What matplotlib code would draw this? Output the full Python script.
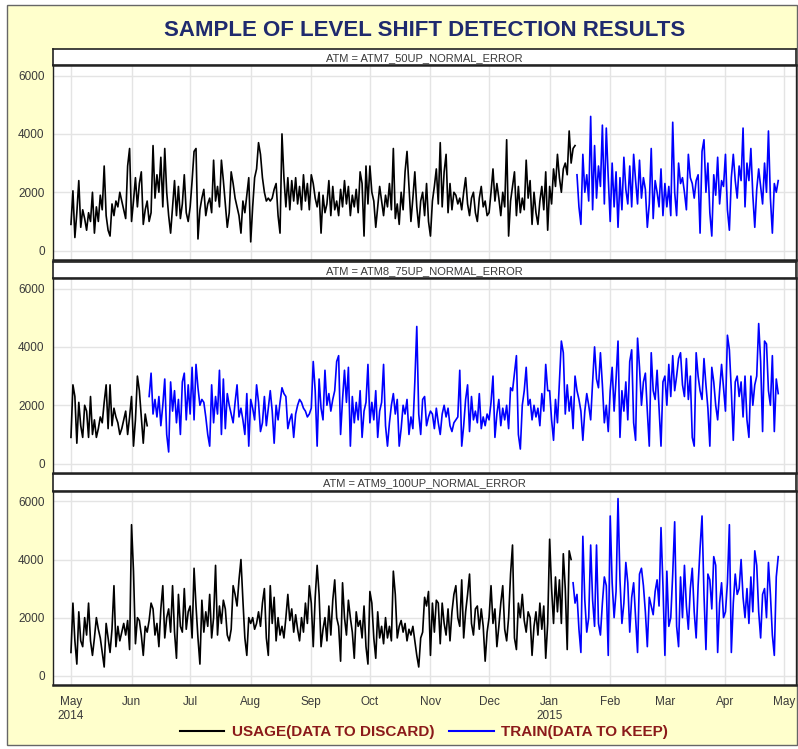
import pandas as pd
import matplotlib
matplotlib.use("Agg")
import matplotlib.pyplot as plt
from matplotlib.lines import Line2D
from matplotlib.patches import Rectangle

plt.rcParams["font.family"] = ["Liberation Sans", "DejaVu Sans"]

START = "2014-05-01"

# ATM7: usage May 1 2014 - Jan 14 2015, train Jan 15 - Apr 28 2015
ATM7_USAGE = [
    # May
    900, 2050, 450, 1300, 2400, 800, 1400, 1100, 700, 1300, 1000, 2000, 600, 1500, 1000, 1900,
    1400, 2900, 1200, 700, 500, 1600, 1200, 1700, 1500, 2000, 1700, 1400, 1100, 2900, 3500,
    # Jun
    1000, 1700, 2500, 1500, 2300, 2700, 900, 1400, 1700, 1000, 1300, 3600, 1800, 2600, 2000,
    3200, 1500, 3500, 2000, 1200, 600, 1500, 2400, 1200, 2200, 1100, 1600, 2600, 1300, 1000,
    # Jul
    1500, 2400, 3400, 3500, 400, 1400, 1800, 2100, 1200, 1600, 1800, 1300, 3100, 1700, 2200,
    1500, 3100, 2400, 1600, 800, 1300, 2700, 2300, 1800, 1500, 1200, 600, 1700, 1300, 1900, 2500,
    # Aug
    300, 1500, 2500, 2800, 3700, 3300, 2500, 2000, 1700, 1800, 1700, 1800, 2100, 2300, 1200,
    600, 4000, 2500, 1500, 2500, 1400, 2400, 1700, 2500, 1600, 2200, 1400, 2600, 1700, 2300, 1400,
    # Sep
    2600, 2300, 1800, 1500, 2000, 600, 1900, 1300, 1600, 2400, 1200, 2200, 1400, 1700, 1200,
    2100, 1500, 2400, 1600, 2200, 1200, 1900, 1500, 2100, 1300, 2700, 2300, 500, 2900, 1600,
    # Oct
    2900, 2000, 1700, 800, 1500, 2200, 1700, 1200, 1900, 1500, 2300, 1400, 3500, 1100,
    1600, 900, 2000, 1400, 2700, 3400, 2200, 1000, 1800, 2700, 1500, 800, 1700, 2000, 1200, 2300, 1000,
    # Nov
    500, 1700, 2200, 2800, 1600, 3700, 1500, 2700, 3300, 1300, 2300, 1400, 2000, 1900, 1600,
    1800, 1400, 2000, 2500, 1600, 1200, 1800, 2000, 1300, 1000, 1800, 2200, 1500, 1700, 1200,
    # Dec
    1300, 2000, 2800, 1700, 2300, 1800, 1200, 2000, 1500, 3800, 500, 1700, 2200, 2700, 1200,
    2200, 1300, 1800, 1400, 3100, 1800, 2400, 900, 2000, 1300, 900, 1700, 2200, 1400, 2700, 700,
    # Jan 1-14
    2200, 1600, 2800, 2200, 3300, 2500, 2000, 2800, 3000, 2600, 4100, 3000, 3500, 3600,
]
ATM7_TRAIN = [
    # Jan 15-31
    2600, 1500, 900, 3300, 2000, 2600, 1700, 4600, 1400, 3600, 1800, 2900, 2200, 4300, 1600, 4200, 2500,
    # Feb
    1000, 3000, 1500, 2700, 800, 2500, 1400, 3200, 2100, 1600, 2900, 1500, 3300, 2400, 1600,
    3100, 1800, 2500, 2100, 800, 1600, 3500, 1100, 2400, 2000, 1500, 2800, 1200,
    # Mar
    2300, 1500, 2200, 1200, 4400, 2000, 1200, 3000, 2300, 2500, 2000, 1400, 3300, 2500, 2300,
    1800, 2400, 2600, 600, 3400, 3800, 2000, 3000, 1300, 500, 2600, 1900, 3200, 1600, 2400, 2200,
    # Apr 1-28
    3300, 1400, 700, 2500, 3300, 2400, 1800, 2900, 2400, 4200, 1500, 3000, 2400, 3500, 1900,
    800, 2100, 2800, 2200, 1600, 3000, 2000, 4100, 1800, 600, 2300, 2000, 2400,
]

# ATM8: usage May 1 - Jun 9 2014, train Jun 10 2014 - Apr 28 2015
ATM8_USAGE = [
    # May
    900, 2700, 2300, 700, 2100, 1300, 900, 2000, 1800, 900, 2300, 1000, 1500, 900, 1200, 1600,
    1400, 2100, 2700, 1200, 2700, 1300, 1900, 1600, 1400, 1000, 1200, 1500, 1800, 1000, 1600,
    # Jun 1-9
    2300, 600, 1500, 3000, 2500, 1600, 700, 1700, 1300,
]
ATM8_TRAIN = [
    # Jun 10-30
    2300, 3100, 1700, 2200, 1600, 2300, 1300, 2000, 2900, 1000, 400, 2800, 1800, 2500, 1400,
    2200, 1000, 2800, 3100, 1500, 2700,
    # Jul
    1700, 3300, 1500, 3400, 2600, 2000, 2200, 2100, 1600, 1000, 600, 2700, 1400, 2300, 1700,
    3200, 1000, 2900, 1200, 2400, 2000, 1700, 1400, 2100, 2700, 1600, 1900, 1500, 1000, 2400, 600,
    # Aug
    2200, 1900, 1500, 2700, 2100, 1100, 1400, 2300, 1300, 1900, 2500, 1800, 700, 2000, 1500,
    2100, 2600, 2400, 2300, 1200, 1500, 1700, 900, 1700, 2000, 2200, 2100, 1900, 1800, 1600, 1700,
    # Sep
    1900, 3500, 2500, 600, 2900, 1900, 1500, 3200, 2000, 2400, 1800, 2200, 2500, 3500, 3700,
    1000, 2200, 3200, 2100, 3300, 600, 2300, 1400, 2100, 1500, 2500, 900, 1800, 2100, 3400,
    # Oct
    1400, 2100, 1500, 2500, 900, 1800, 2100, 3400, 1300, 600, 1400, 2000, 2400, 1700, 2200,
    600, 1200, 2000, 1700, 2200, 1000, 1600, 1200, 2800, 4700, 1700, 1000, 2200, 2300, 1300, 1600,
    # Nov
    1800, 1700, 1200, 1900, 1400, 1000, 1700, 2000, 1600, 1900, 1300, 1100, 1400, 1500, 1600,
    3200, 600, 1300, 2200, 2700, 1100, 2300, 1500, 1800, 1400, 2400, 1200, 1600, 1300, 1700,
    # Dec
    1500, 2100, 3000, 900, 1700, 2200, 1300, 1900, 1500, 2000, 1200, 2600, 2500, 3100, 3700,
    1000, 500, 2000, 2500, 3300, 2000, 2200, 1500, 2000, 1600, 1900, 1300, 2400, 1800, 3400, 2500,
    # Jan
    2500, 1500, 800, 2200, 1400, 2800, 4200, 3800, 1700, 2700, 1800, 2300, 1200, 3000, 2500,
    2200, 1800, 800, 1800, 2400, 2000, 1500, 2800, 4000, 2900, 2600, 3800, 2700, 1400, 2000, 1100,
    # Feb
    2500, 3300, 1800, 2900, 4200, 900, 2500, 1800, 2800, 1500, 3500, 3900, 1400, 800, 4300,
    3300, 2000, 2800, 3100, 1800, 600, 3800, 2500, 2200, 3200, 1900, 600, 2800,
    # Mar
    3000, 2000, 3400, 2300, 3700, 2500, 3000, 3600, 3800, 2700, 2300, 3600, 2200, 3000, 900,
    600, 3800, 3000, 2500, 2200, 3600, 2700, 1900, 600, 3300, 2800, 2000, 1500, 2500, 3400, 2600,
    # Apr 1-28
    1800, 4400, 3900, 2500, 800, 2800, 3000, 2300, 2800, 1600, 3000, 1500, 900, 3000, 2000,
    2700, 3000, 4800, 3500, 1100, 4200, 4100, 2500, 2000, 3700, 1100, 2900, 2400,
]

# ATM9: usage May 1 2014 - Jan 12 2015, train Jan 13 - Apr 28 2015
ATM9_USAGE = [
    # May
    800, 2500, 1200, 400, 2200, 1200, 1000, 2000, 1400, 2500, 1200, 700, 1300, 2000, 1600, 1300,
    800, 300, 1800, 1300, 800, 1600, 3100, 1000, 1700, 1200, 1500, 1800, 1400, 1900, 900,
    # Jun
    5200, 3600, 1100, 2000, 1900, 1400, 700, 1700, 1500, 1900, 2500, 2300, 1400, 1800, 1000,
    2300, 3100, 1300, 2000, 2300, 1500, 3100, 1500, 600, 2800, 1700, 1500, 3000, 1600, 2200,
    # Jul
    2400, 1300, 3700, 2400, 1300, 400, 2600, 1500, 2200, 1700, 2800, 1300, 2000, 3800, 1400,
    2400, 1800, 2600, 2300, 1400, 1200, 1600, 3100, 2800, 2400, 3300, 4000, 2600, 1300, 700, 2000,
    # Aug
    1800, 2000, 1600, 1800, 2200, 1700, 2500, 3000, 1300, 700, 3100, 1800, 2700, 1200, 2000,
    1400, 1700, 1300, 2000, 2800, 1900, 2300, 1500, 2100, 1600, 1200, 2000, 1500, 2500, 1800, 3100,
    # Sep
    2500, 1000, 2700, 3800, 2800, 1000, 1600, 2000, 1200, 2400, 1400, 2600, 3300, 2000, 1700,
    500, 3200, 2000, 1400, 2600, 2000, 1500, 600, 2200, 1700, 1900, 1300, 2400, 1000, 400,
    # Oct
    2900, 2500, 1300, 600, 2200, 1300, 1700, 1100, 2000, 1300, 1700, 1200, 3600, 2800, 1300,
    1700, 1900, 1500, 1800, 1200, 1600, 1400, 1700, 1200, 700, 300, 1300, 1500, 2700, 2400, 2900,
    # Nov
    700, 2500, 1500, 2600, 2500, 1100, 2500, 1800, 1400, 2300, 1200, 2200, 2800, 3100, 2000,
    1700, 3300, 1300, 2200, 2800, 3500, 1800, 1400, 2300, 2400, 1600, 2300, 1700, 500, 1500,
    # Dec
    2000, 3100, 1800, 2300, 1000, 1700, 2500, 3100, 1600, 1200, 2000, 3500, 4500, 1300, 900,
    2500, 2000, 2800, 1900, 1500, 2200, 2000, 700, 1700, 2200, 1400, 2500, 1600, 2400, 600, 1800,
    # Jan 1-12
    4700, 3000, 1800, 3400, 2200, 3300, 1800, 4200, 3000, 900, 4300, 4000,
]
ATM9_TRAIN = [
    # Jan 13-31
    3200, 2500, 2800, 1600, 800, 4800, 2600, 1500, 2000, 4500, 2600, 1700, 4500, 1800, 1400,
    2500, 3400, 3100, 700,
    # Feb
    5500, 3200, 2000, 2900, 6100, 3300, 1800, 2500, 3900, 3200, 1500, 2700, 3200, 2000, 800,
    3500, 3700, 3100, 2200, 1000, 2700, 2400, 2100, 2900, 3300, 2400, 5100, 3100,
    # Mar
    700, 3600, 1700, 2000, 3500, 5300, 1700, 1000, 3400, 2000, 3800, 2400, 1600, 3000, 3700,
    2200, 1300, 3100, 4400, 5500, 2800, 900, 3500, 3300, 2300, 4100, 3800, 800, 2500, 3200, 2000,
    # Apr 1-28
    2200, 3200, 5200, 800, 2500, 3500, 2800, 3000, 4000, 2700, 2000, 3000, 1800, 3400, 2200,
    4300, 3800, 2200, 1300, 2800, 3000, 2000, 3900, 2800, 1400, 700, 3400, 4100,
]

STRIP_LABELS = [
    "ATM = ATM7_50UP_NORMAL_ERROR",
    "ATM = ATM8_75UP_NORMAL_ERROR",
    "ATM = ATM9_100UP_NORMAL_ERROR",
]
USAGE_SERIES = [ATM7_USAGE, ATM8_USAGE, ATM9_USAGE]
TRAIN_SERIES = [ATM7_TRAIN, ATM8_TRAIN, ATM9_TRAIN]

MONTH_TICKS = pd.date_range("2014-05-01", "2015-05-01", freq="MS")
MONTH_LABELS = ["May\n2014", "Jun", "Jul", "Aug", "Sep", "Oct", "Nov", "Dec",
                "Jan\n2015", "Feb", "Mar", "Apr", "May"]
Y_TICKS = [0, 2000, 4000, 6000]

TITLE = "SAMPLE OF LEVEL SHIFT DETECTION RESULTS"
USAGE_LABEL = "USAGE(DATA TO DISCARD)"
TRAIN_LABEL = "TRAIN(DATA TO KEEP)"

W, H = 798, 749
BG = "#FFFFCC"
GRID = "#E4E4E4"
TICK_COLOR = "#3A3A3A"


def box(left, top, right, bottom):
    return [left / W, 1 - bottom / H, (right - left) / W, (bottom - top) / H]


fig = plt.figure(figsize=(W / 100, H / 100), dpi=100)
fig.patch.set_facecolor("white")
frame = Rectangle((7 / W, 4 / H), 790 / W, 740 / H, transform=fig.transFigure,
                  facecolor=BG, edgecolor="#666666", linewidth=1, zorder=-10)
fig.add_artist(frame)

fig.text(425 / W, 1 - 30 / H, TITLE, ha="center", va="center", fontsize=16,
         fontweight="bold", color="#1F2A6E")

plot_boxes = [(53, 65, 796, 260), (53, 278, 796, 473), (53, 491, 796, 685)]
strip_boxes = [(53, 49, 796, 65), (53, 262, 796, 278), (53, 474, 796, 491)]

x_min = pd.Timestamp("2014-05-01") - pd.Timedelta(days=9.2)
x_max = pd.Timestamp("2015-05-01") + pd.Timedelta(days=6.1)

for i in range(3):
    usage = USAGE_SERIES[i]
    train = TRAIN_SERIES[i]
    usage_dates = pd.date_range(START, periods=len(usage), freq="D")
    train_dates = pd.date_range(usage_dates[-1] + pd.Timedelta(days=1), periods=len(train), freq="D")

    ax = fig.add_axes(box(*plot_boxes[i]))
    ax.set_facecolor("white")
    ax.plot(usage_dates, usage, color="black", linewidth=1.2)
    ax.plot(train_dates, train, color="#0000FF", linewidth=1.2)

    ax.set_xlim(x_min, x_max)
    ax.set_ylim(-320, 6360)
    ax.set_yticks(Y_TICKS)
    ax.set_yticklabels([str(v) for v in Y_TICKS])
    ax.set_xticks(MONTH_TICKS)
    if i == 2:
        ax.set_xticklabels(MONTH_LABELS)
    else:
        ax.set_xticklabels([])
    ax.tick_params(length=0, labelsize=8.5, colors=TICK_COLOR, pad=6)
    ax.tick_params(axis="x", pad=8)
    ax.grid(color=GRID, linewidth=1)
    ax.set_axisbelow(True)
    for side in ["left", "right"]:
        ax.spines[side].set_linewidth(1)
        ax.spines[side].set_color("#222222")
    for side in ["top", "bottom"]:
        ax.spines[side].set_linewidth(1.8)
        ax.spines[side].set_color("#222222")

    strip = fig.add_axes(box(*strip_boxes[i]))
    strip.set_facecolor("white")
    strip.set_xticks([])
    strip.set_yticks([])
    for side in strip.spines:
        strip.spines[side].set_color("#222222")
        strip.spines[side].set_linewidth(1.2)
    strip.text(0.5, 0.45, STRIP_LABELS[i], transform=strip.transAxes, ha="center",
               va="center", fontsize=8, color=TICK_COLOR)

handles = [Line2D([], [], color="black", linewidth=1.5),
           Line2D([], [], color="#0000FF", linewidth=1.5)]
leg = fig.legend(handles, [USAGE_LABEL, TRAIN_LABEL], loc="center",
                 bbox_to_anchor=(424 / W, 1 - 732 / H), ncol=2, frameon=False,
                 handlelength=2.9, handletextpad=0.5, columnspacing=1.0,
                 prop={"size": 11, "weight": "bold"})
for txt in leg.get_texts():
    txt.set_color("#8B1A1A")

fig.savefig("out.png", dpi=100, facecolor=fig.get_facecolor())
